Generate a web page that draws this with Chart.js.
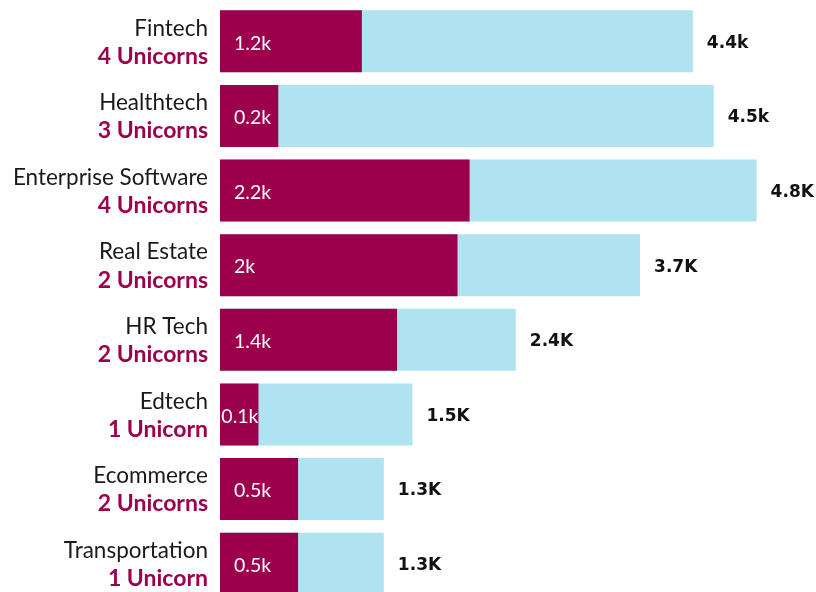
<!DOCTYPE html>
<html>
<head>
<meta charset="utf-8">
<script src="https://cdn.jsdelivr.net/npm/chart.js@4"></script>
<style>
  html, body { margin: 0; padding: 0; background: #fff; overflow: hidden; }
  #wrap { position: absolute; left: 0; top: 4px; width: 816px; height: 597px; }
</style>
</head>
<body>
<div id="wrap"><canvas id="chart"></canvas></div>
<script>
// categories and the unicorn count under each one
const categories = ['Fintech', 'Healthtech', 'Enterprise Software', 'Real Estate', 'HR Tech', 'Edtech', 'Ecommerce', 'Transportation'];
const unicorns = ['4 Unicorns', '3 Unicorns', '4 Unicorns', '2 Unicorns', '2 Unicorns', '1 Unicorn', '2 Unicorns', '1 Unicorn'];

// bar lengths as drawn (k)
const darkValues = [1.29, 0.53, 2.27, 2.16, 1.61, 0.35, 0.71, 0.71];
const totalValues = [4.30, 4.49, 4.88, 3.82, 2.69, 1.75, 1.49, 1.49];

// the printed labels
const darkLabels = ['1.2k', '0.2k', '2.2k', '2k', '1.4k', '0.1k', '0.5k', '0.5k'];
const totalLabels = ['4.4k', '4.5k', '4.8K', '3.7K', '2.4K', '1.5K', '1.3K', '1.3K'];

const DARK = '#9c004d';
const LIGHT = '#b0e3f1';

const labelPlugin = {
    id: 'labels',
    afterDatasetsDraw(chart) {
        const ctx = chart.ctx;
        const x = chart.scales.x;
        const y = chart.scales.y;
        ctx.save();
        ctx.textBaseline = 'middle';
        categories.forEach((cat, i) => {
            const cy = y.getPixelForValue(i);

            // left side: name + unicorn count
            ctx.textAlign = 'right';
            ctx.fillStyle = '#1a1a1a';
            ctx.font = '22.5px Lato';
            ctx.fillText(cat, 208, cy - 13);
            ctx.fillStyle = DARK;
            ctx.font = 'bold 23px Lato';
            ctx.fillText(unicorns[i], 208, cy + 15);

            // value inside dark bar
            ctx.textAlign = 'left';
            ctx.fillStyle = '#ffffff';
            ctx.font = '19.5px Lato';
            const x0 = x.getPixelForValue(0);
            const xd = x.getPixelForValue(darkValues[i]);
            const w = ctx.measureText(darkLabels[i]).width;
            ctx.fillText(darkLabels[i], Math.min(x0 + 14, xd - w), cy + 2);

            // total at end of light bar
            ctx.fillStyle = '#111111';
            ctx.font = 'bold 17px "DejaVu Sans"';
            ctx.fillText(totalLabels[i], x.getPixelForValue(totalValues[i]) + 14, cy + 2);
        });
        ctx.restore();
    }
};

new Chart(document.getElementById('chart'), {
    type: 'bar',
    data: {
        labels: categories,
        datasets: [
            {
                label: 'Dark',
                data: darkValues,
                backgroundColor: DARK,
                barPercentage: 1,
                categoryPercentage: 0.83
            },
            {
                label: 'Total',
                data: totalValues,
                backgroundColor: LIGHT,
                barPercentage: 1,
                categoryPercentage: 0.83
            }
        ]
    },
    options: {
        indexAxis: 'y',
        responsive: true,
        maintainAspectRatio: false,
        animation: false,
        grouped: false,
        layout: { padding: { left: 220, right: 0, top: 0, bottom: 0 } },
        scales: {
            x: { display: false, min: 0, max: 5.42 },
            y: { display: false }
        },
        plugins: {
            legend: { display: false },
            tooltip: { enabled: false }
        }
    },
    plugins: [labelPlugin]
});
</script>
</body>
</html>
